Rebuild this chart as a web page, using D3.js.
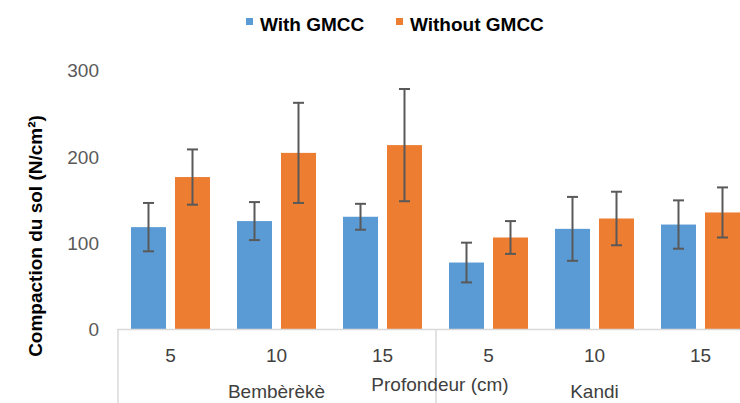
<!DOCTYPE html>
<html>
<head>
<meta charset="utf-8">
<script src="https://cdn.jsdelivr.net/npm/d3@7"></script>
<style>
  body { margin: 0; background: #fff; }
  text { font-family: "Liberation Sans", Arial, sans-serif; }
</style>
</head>
<body>
<div id="chart"></div>
<script>
// values
var sites = ["Bembèrèkè", "Kandi"]
var depths = ["5", "10", "15"]
var seriesNames = ["With GMCC", "Without GMCC"]
var withGmcc = [118, 125, 130, 77, 116, 121]
var withGmccErr = [28, 22, 15, 23, 37, 28]
var withoutGmcc = [176, 204, 213, 106, 128, 135]
var withoutGmccErr = [32, 58, 65, 19, 31, 29]
var yTicks = [0, 100, 200, 300]

var colors = ["#5B9BD5", "#ED7D31"]
var w = 740, h = 403

var svg = d3.select("#chart").append("svg")
    .attr("width", w)
    .attr("height", h)

// one entry per (site, depth)
var cats = []
sites.forEach(function (s) {
    depths.forEach(function (d) { cats.push({site: s, depth: d, key: s + "-" + d}) })
})
var rows = cats.map(function (c, i) {
    return {
        key: c.key,
        vals: [
            {name: seriesNames[0], v: withGmcc[i], e: withGmccErr[i]},
            {name: seriesNames[1], v: withoutGmcc[i], e: withoutGmccErr[i]}
        ]
    }
})

// note: "top" is taken by window.top, so use plot* names
var plotLeft = 117.5, plotRight = 753.5, plotBottom = 329, plotTop = 70

var x0 = d3.scaleBand().domain(cats.map(function (c) { return c.key })).range([plotLeft, plotRight])
var x1 = d3.scaleBand().domain(seriesNames).range([0, x0.bandwidth()])
    .paddingInner(9 / 44).paddingOuter(13.5 / 44)
var y = d3.scaleLinear().domain([0, 300]).range([plotBottom, plotTop])

// y tick labels (no axis line)
var yAxis = svg.append("g")
    .attr("transform", "translate(99,0)")
    .call(d3.axisLeft(y).tickValues(yTicks).tickSize(0).tickPadding(0))
yAxis.select(".domain").remove()
yAxis.selectAll("text")
    .attr("font-size", 19)
    .attr("font-family", "Liberation Sans, Arial, sans-serif")
    .attr("fill", "#595959")
    .attr("dy", "0.36em")

// y title
svg.append("text")
    .attr("transform", "translate(42,236) rotate(-90)")
    .attr("text-anchor", "middle")
    .attr("font-size", 19)
    .attr("font-weight", "bold")
    .attr("fill", "#000")
    .text("Compaction du sol (N/cm²)")

// bars
var groups = svg.selectAll(".grp")
    .data(rows)
    .enter().append("g")
    .attr("class", "grp")
    .attr("transform", function (d) { return "translate(" + x0(d.key) + ",0)" })

groups.selectAll("rect")
    .data(function (d) { return d.vals })
    .enter().append("rect")
    .attr("x", function (d) { return x1(d.name) })
    .attr("y", function (d) { return y(d.v) })
    .attr("width", x1.bandwidth())
    .attr("height", function (d) { return plotBottom - y(d.v) })
    .attr("fill", function (d, i) { return colors[i] })

// error bars
var eb = groups.selectAll(".err")
    .data(function (d) { return d.vals })
    .enter().append("g")
    .attr("class", "err")
    .attr("stroke", "#595959")
    .attr("stroke-width", 2)
eb.append("line")
    .attr("x1", function (d) { return x1(d.name) + x1.bandwidth() / 2 })
    .attr("x2", function (d) { return x1(d.name) + x1.bandwidth() / 2 })
    .attr("y1", function (d) { return y(d.v + d.e) })
    .attr("y2", function (d) { return y(d.v - d.e) })
eb.selectAll(".cap")
    .data(function (d) { return [{d: d, v: d.v + d.e}, {d: d, v: d.v - d.e}] })
    .enter().append("line")
    .attr("x1", function (c) { return x1(c.d.name) + x1.bandwidth() / 2 - 5.5 })
    .attr("x2", function (c) { return x1(c.d.name) + x1.bandwidth() / 2 + 5.5 })
    .attr("y1", function (c) { return y(c.v) })
    .attr("y2", function (c) { return y(c.v) })

// category axis
svg.append("line")
    .attr("x1", plotLeft).attr("x2", plotRight)
    .attr("y1", plotBottom + 0.5).attr("y2", plotBottom + 0.5)
    .attr("stroke", "#d9d9d9").attr("stroke-width", 1.5)

//separators between sites
sites.forEach(function (s) {
    var xs = x0(s + "-" + depths[0])
    svg.append("line")
        .attr("x1", xs + 0.5).attr("x2", xs + 0.5)
        .attr("y1", plotBottom).attr("y2", h)
        .attr("stroke", "#d9d9d9").attr("stroke-width", 1.5)
})

svg.selectAll(".xlab")
    .data(cats)
    .enter().append("text")
    .attr("class", "xlab")
    .attr("x", function (c) { return x0(c.key) + x0.bandwidth() / 2 })
    .attr("y", 362)
    .attr("text-anchor", "middle")
    .attr("font-size", 19)
    .attr("fill", "#404040")
    .text(function (c) { return c.depth })

svg.selectAll(".site")
    .data(sites)
    .enter().append("text")
    .attr("class", "site")
    .attr("x", function (s) { return x0(s + "-" + depths[1]) + x0.bandwidth() / 2 })
    .attr("y", 398)
    .attr("text-anchor", "middle")
    .attr("font-size", 19)
    .attr("fill", "#404040")
    .text(function (s) { return s })

svg.append("text")
    .attr("x", 440)
    .attr("y", 391)
    .attr("text-anchor", "middle")
    .attr("font-size", 19)
    .attr("fill", "#404040")
    .text("Profondeur (cm)")

// legend
var legX = [246, 396]
var leg = svg.selectAll(".leg")
    .data(seriesNames)
    .enter().append("g")
    .attr("class", "leg")
    .attr("transform", function (d, i) { return "translate(" + legX[i] + ",0)" })
leg.append("rect")
    .attr("x", 0).attr("y", 18)
    .attr("width", 7).attr("height", 7)
    .attr("fill", function (d, i) { return colors[i] })
leg.append("text")
    .attr("x", 14).attr("y", 31)
    .attr("font-size", 19)
    .attr("font-weight", "bold")
    .attr("fill", "#000")
    .text(function (d) { return d })
</script>
</body>
</html>
